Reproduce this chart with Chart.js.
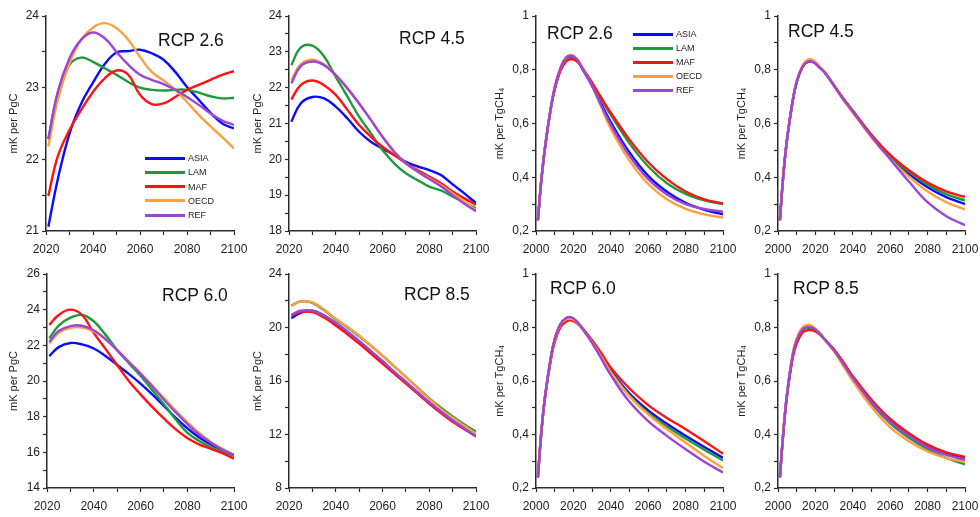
<!DOCTYPE html>
<html>
<head>
<meta charset="utf-8">
<script src="https://cdn.jsdelivr.net/npm/chart.js@4.4.1/dist/chart.umd.min.js"></script>
<style>
  html, body { margin: 0; padding: 0; background: #fff; }
  body { width: 980px; height: 517px; position: relative; overflow: hidden;
         font-family: 'Liberation Sans', Arial, sans-serif; }
  .panel { position: absolute; }
  .rcp { position: absolute; font-size: 17.5px; line-height: 17.5px; color: #111; white-space: nowrap; }
  .legend { position: absolute; font-size: 9px; color: #222; }
  .legend .row { display: flex; align-items: center; }
  .legend .swatch { width: 40px; height: 3px; margin-right: 3px; }
</style>
</head>
<body>
<script>
// ===== DATA =====
const regions = ['ASIA', 'LAM', 'MAF', 'OECD', 'REF'];
const regionColors = ['#0b0bff', '#1e9a3c', '#ff1212', '#ffa040', '#9a46d6'];

const yearsCO2 = [2021, 2025, 2030, 2035, 2040, 2045, 2050, 2055, 2060, 2065, 2070, 2075, 2080, 2085, 2090, 2095, 2100];
const yearsCH4 = [2001, 2003, 2005, 2008, 2010, 2013, 2016, 2019, 2022, 2025, 2030, 2035, 2040, 2050, 2060, 2070, 2080, 2090, 2100];

// mK per PgC, rows in region order (ASIA, LAM, MAF, OECD, REF)
const co2Rcp26 = [
  [21.06, 21.72, 22.36, 22.78, 23.07, 23.33, 23.49, 23.51, 23.53, 23.48, 23.39, 23.22, 23.01, 22.83, 22.65, 22.50, 22.43],
  [22.29, 22.92, 23.32, 23.42, 23.36, 23.27, 23.18, 23.08, 23.00, 22.97, 22.96, 22.97, 22.97, 22.93, 22.88, 22.85, 22.86],
  [21.49, 22.04, 22.41, 22.69, 22.94, 23.13, 23.24, 23.18, 22.90, 22.77, 22.78, 22.87, 22.97, 23.04, 23.11, 23.18, 23.23],
  [22.18, 22.83, 23.34, 23.67, 23.84, 23.90, 23.83, 23.67, 23.43, 23.22, 23.10, 22.97, 22.80, 22.62, 22.46, 22.31, 22.15],
  [22.28, 22.94, 23.41, 23.67, 23.77, 23.69, 23.50, 23.32, 23.18, 23.11, 23.05, 22.97, 22.87, 22.76, 22.64, 22.54, 22.48]
];
const co2Rcp45 = [
  [21.05, 21.56, 21.74, 21.70, 21.47, 21.14, 20.77, 20.49, 20.30, 20.12, 19.93, 19.80, 19.70, 19.56, 19.30, 19.05, 18.78],
  [22.63, 23.12, 23.17, 22.87, 22.30, 21.75, 21.19, 20.73, 20.26, 19.89, 19.61, 19.42, 19.24, 19.13, 18.96, 18.80, 18.63],
  [21.67, 22.07, 22.20, 22.07, 21.80, 21.38, 20.96, 20.63, 20.35, 20.12, 19.89, 19.70, 19.52, 19.33, 19.10, 18.91, 18.73],
  [22.21, 22.65, 22.78, 22.65, 22.35, 21.98, 21.56, 21.10, 20.63, 20.21, 19.89, 19.66, 19.47, 19.28, 19.05, 18.82, 18.59],
  [22.12, 22.60, 22.73, 22.63, 22.35, 21.98, 21.56, 21.10, 20.63, 20.21, 19.89, 19.66, 19.45, 19.25, 19.00, 18.76, 18.55]
];
const co2Rcp60 = [
  [21.40, 21.90, 22.13, 22.05, 21.82, 21.40, 20.90, 20.40, 19.85, 19.25, 18.60, 17.95, 17.35, 16.85, 16.45, 16.10, 15.82],
  [22.40, 23.10, 23.55, 23.70, 23.35, 22.60, 21.75, 21.00, 20.30, 19.50, 18.70, 17.85, 17.10, 16.65, 16.30, 16.05, 15.80],
  [23.15, 23.70, 24.00, 23.70, 22.70, 21.80, 20.90, 20.00, 19.25, 18.55, 17.90, 17.30, 16.80, 16.45, 16.20, 15.95, 15.65],
  [22.10, 22.70, 22.98, 23.00, 22.78, 22.35, 21.75, 21.10, 20.45, 19.75, 19.05, 18.35, 17.70, 17.10, 16.60, 16.20, 15.87],
  [22.20, 22.80, 23.08, 23.10, 22.85, 22.35, 21.72, 21.05, 20.40, 19.70, 18.95, 18.25, 17.60, 17.00, 16.55, 16.15, 15.85]
];
const co2Rcp85 = [
  [20.70, 21.10, 21.25, 20.90, 20.30, 19.65, 18.95, 18.20, 17.45, 16.65, 15.90, 15.15, 14.40, 13.70, 13.05, 12.45, 11.90],
  [21.65, 21.95, 21.85, 21.30, 20.60, 20.00, 19.35, 18.65, 17.90, 17.10, 16.30, 15.50, 14.70, 14.00, 13.35, 12.75, 12.20],
  [20.90, 21.15, 21.15, 20.75, 20.15, 19.50, 18.80, 18.05, 17.30, 16.55, 15.80, 15.05, 14.30, 13.60, 12.95, 12.40, 11.85],
  [21.60, 21.95, 21.87, 21.35, 20.65, 20.05, 19.40, 18.65, 17.90, 17.10, 16.30, 15.45, 14.65, 13.90, 13.25, 12.65, 12.05],
  [20.95, 21.25, 21.25, 20.90, 20.35, 19.70, 19.00, 18.25, 17.50, 16.70, 15.95, 15.15, 14.40, 13.70, 13.05, 12.45, 11.85]
];

// mK per TgCH4, rows in region order
const ch4Rcp26 = [
  [0.24, 0.40, 0.52, 0.66, 0.730, 0.800, 0.840, 0.848, 0.835, 0.800, 0.740, 0.672, 0.605, 0.492, 0.405, 0.346, 0.305, 0.279, 0.262],
  [0.24, 0.40, 0.52, 0.66, 0.730, 0.800, 0.840, 0.850, 0.835, 0.805, 0.748, 0.690, 0.632, 0.526, 0.440, 0.378, 0.338, 0.314, 0.300],
  [0.24, 0.40, 0.52, 0.66, 0.725, 0.795, 0.830, 0.840, 0.830, 0.805, 0.752, 0.695, 0.640, 0.540, 0.456, 0.393, 0.347, 0.318, 0.302],
  [0.24, 0.40, 0.52, 0.66, 0.735, 0.805, 0.845, 0.855, 0.840, 0.805, 0.740, 0.660, 0.580, 0.462, 0.375, 0.318, 0.282, 0.262, 0.250],
  [0.24, 0.40, 0.52, 0.66, 0.735, 0.805, 0.845, 0.852, 0.838, 0.803, 0.740, 0.665, 0.595, 0.480, 0.393, 0.336, 0.300, 0.282, 0.272]
];
const ch4Rcp45 = [
  [0.24, 0.42, 0.55, 0.69, 0.755, 0.810, 0.830, 0.828, 0.810, 0.790, 0.740, 0.690, 0.645, 0.553, 0.475, 0.413, 0.363, 0.326, 0.300],
  [0.24, 0.42, 0.55, 0.69, 0.755, 0.810, 0.830, 0.828, 0.810, 0.790, 0.740, 0.690, 0.645, 0.555, 0.479, 0.420, 0.372, 0.337, 0.314],
  [0.24, 0.42, 0.55, 0.69, 0.755, 0.810, 0.830, 0.828, 0.810, 0.790, 0.742, 0.692, 0.648, 0.558, 0.483, 0.426, 0.380, 0.347, 0.327],
  [0.24, 0.42, 0.55, 0.69, 0.760, 0.815, 0.838, 0.835, 0.815, 0.790, 0.738, 0.686, 0.640, 0.548, 0.468, 0.402, 0.347, 0.307, 0.280],
  [0.24, 0.42, 0.55, 0.69, 0.755, 0.810, 0.830, 0.828, 0.810, 0.790, 0.740, 0.690, 0.645, 0.552, 0.467, 0.384, 0.307, 0.255, 0.222]
];
const ch4Rcp60 = [
  [0.24, 0.42, 0.55, 0.69, 0.755, 0.810, 0.832, 0.835, 0.820, 0.795, 0.748, 0.695, 0.640, 0.553, 0.490, 0.440, 0.395, 0.353, 0.313],
  [0.24, 0.42, 0.55, 0.69, 0.755, 0.810, 0.833, 0.836, 0.820, 0.795, 0.747, 0.692, 0.635, 0.546, 0.480, 0.430, 0.385, 0.343, 0.303],
  [0.24, 0.42, 0.55, 0.68, 0.745, 0.800, 0.822, 0.826, 0.815, 0.795, 0.752, 0.703, 0.650, 0.572, 0.510, 0.462, 0.420, 0.375, 0.328],
  [0.24, 0.42, 0.55, 0.69, 0.755, 0.810, 0.830, 0.832, 0.818, 0.793, 0.745, 0.690, 0.633, 0.543, 0.475, 0.420, 0.370, 0.320, 0.274],
  [0.24, 0.42, 0.55, 0.69, 0.757, 0.812, 0.835, 0.838, 0.820, 0.793, 0.742, 0.683, 0.622, 0.522, 0.450, 0.395, 0.345, 0.298, 0.258]
];
const ch4Rcp85 = [
  [0.24, 0.42, 0.560, 0.70, 0.750, 0.790, 0.800, 0.795, 0.780, 0.755, 0.715, 0.665, 0.613, 0.524, 0.452, 0.400, 0.357, 0.328, 0.310],
  [0.24, 0.42, 0.560, 0.70, 0.750, 0.790, 0.800, 0.795, 0.780, 0.755, 0.714, 0.663, 0.610, 0.515, 0.442, 0.388, 0.345, 0.313, 0.288],
  [0.24, 0.42, 0.555, 0.69, 0.740, 0.780, 0.790, 0.788, 0.776, 0.755, 0.718, 0.670, 0.618, 0.530, 0.458, 0.405, 0.362, 0.333, 0.316],
  [0.24, 0.425, 0.565, 0.71, 0.760, 0.800, 0.810, 0.802, 0.782, 0.755, 0.710, 0.655, 0.600, 0.503, 0.427, 0.375, 0.337, 0.312, 0.298],
  [0.24, 0.42, 0.560, 0.70, 0.752, 0.792, 0.802, 0.797, 0.780, 0.755, 0.714, 0.664, 0.611, 0.520, 0.447, 0.395, 0.352, 0.324, 0.306]
];

const unitCO2 = 'mK per PgC';
const unitCH4 = 'mK per TgCH\u2084';

// ===== LAYOUT (page pixels) =====
// area = [left, top, right, bottom] of the plot box; yw = y axis band width
const panels = [
  { label: 'RCP 2.6', series: co2Rcp26, years: yearsCO2, unit: unitCO2, x: [2020, 2100], y: [21, 24], yStep: 0.5, yMajor: 1,
    area: [46, 16, 234, 231], yw: 46, titlePad: 7, rcp: [158, 32], legend: [145, 151, 14.25] },
  { label: 'RCP 4.5', series: co2Rcp45, years: yearsCO2, unit: unitCO2, x: [2020, 2100], y: [18, 24], yStep: 0.5, yMajor: 1,
    area: [289, 16, 476, 231], yw: 44, titlePad: 6, rcp: [399, 30] },
  { label: 'RCP 2.6', series: ch4Rcp26, years: yearsCH4, unit: unitCH4, x: [2000, 2100], y: [0.2, 1], yStep: 0.1, yMajor: 0.2,
    area: [536, 16, 723, 231], yw: 46, titlePad: 3, rcp: [547, 25], legend: [633, 27.5, 13.9] },
  { label: 'RCP 4.5', series: ch4Rcp45, years: yearsCH4, unit: unitCH4, x: [2000, 2100], y: [0.2, 1], yStep: 0.1, yMajor: 0.2,
    area: [778, 16, 965, 231], yw: 43, titlePad: 0, rcp: [788, 23] },
  { label: 'RCP 6.0', series: co2Rcp60, years: yearsCO2, unit: unitCO2, x: [2020, 2100], y: [14, 26], yStep: 1, yMajor: 2,
    area: [47, 274, 234, 488], yw: 47, titlePad: 7, rcp: [162, 287] },
  { label: 'RCP 8.5', series: co2Rcp85, years: yearsCO2, unit: unitCO2, x: [2020, 2100], y: [8, 24], yStep: 2, yMajor: 4,
    area: [289, 274, 476, 488], yw: 44, titlePad: 6, rcp: [404, 286] },
  { label: 'RCP 6.0', series: ch4Rcp60, years: yearsCH4, unit: unitCH4, x: [2000, 2100], y: [0.2, 1], yStep: 0.1, yMajor: 0.2,
    area: [536, 274, 723, 488], yw: 46, titlePad: 3, rcp: [550, 280] },
  { label: 'RCP 8.5', series: ch4Rcp85, years: yearsCH4, unit: unitCH4, x: [2000, 2100], y: [0.2, 1], yStep: 0.1, yMajor: 0.2,
    area: [778, 274, 965, 488], yw: 43, titlePad: 0, rcp: [793, 280] }
];

const axisColor = '#2a2a2a';
const fontFamily = "'Liberation Sans', Arial, sans-serif";
const PAD_TOP = 16, PAD_RIGHT = 22, X_BAND = 30;

function isMajor(v, step) {
  const r = v / step;
  return Math.abs(r - Math.round(r)) < 1e-6;
}

function fmtY(v, p) {
  if (!isMajor(v, p.yMajor)) return '';
  const r = Math.round(v * 1e6) / 1e6;
  if (Number.isInteger(r)) return String(r);
  return r.toFixed(1).replace('.', ',');
}

function buildPanel(p) {
  const [L, T, R, B] = p.area;
  const wrap = document.createElement('div');
  wrap.className = 'panel';
  const w = (R - L) + p.yw + PAD_RIGHT;
  const h = (B - T) + PAD_TOP + X_BAND;
  wrap.style.left = (L - p.yw) + 'px';
  wrap.style.top = (T - PAD_TOP) + 'px';
  wrap.style.width = w + 'px';
  wrap.style.height = h + 'px';
  const canvas = document.createElement('canvas');
  canvas.width = w;
  canvas.height = h;
  wrap.appendChild(canvas);
  document.body.appendChild(wrap);

  new Chart(canvas, {
    type: 'line',
    data: {
      datasets: regions.map((name, i) => ({
        label: name,
        data: p.years.map((yr, k) => ({ x: yr, y: p.series[i][k] })),
        borderColor: regionColors[i],
        borderWidth: 2.4,
        pointRadius: 0,
        fill: false,
        tension: 0.4,
        order: regions.length - i
      }))
    },
    options: {
      responsive: false,
      animation: false,
      events: [],
      layout: { padding: { left: 0, top: PAD_TOP, right: PAD_RIGHT, bottom: 0 } },
      plugins: { legend: { display: false }, tooltip: { enabled: false } },
      scales: {
        x: {
          type: 'linear',
          min: p.x[0], max: p.x[1],
          afterFit: s => { s.height = X_BAND; },
          ticks: {
            stepSize: 10, autoSkip: false, maxRotation: 0, padding: 7,
            color: '#222', font: { family: fontFamily, size: 12 },
            callback: v => (v % 20 === 0 ? String(v) : '')
          },
          grid: { drawOnChartArea: false, drawTicks: true, tickLength: 4, tickColor: axisColor, tickWidth: 1.2 },
          border: { display: true, color: axisColor, width: 1.5 }
        },
        y: {
          type: 'linear',
          min: p.y[0], max: p.y[1],
          afterFit: s => { s.width = p.yw; },
          ticks: {
            stepSize: p.yStep, autoSkip: false, padding: 3,
            color: '#222', font: { family: fontFamily, size: 12 },
            callback: v => fmtY(v, p)
          },
          grid: { drawOnChartArea: false, drawTicks: true, tickLength: 4, tickColor: axisColor, tickWidth: 1.2 },
          border: { display: true, color: axisColor, width: 1.5 },
          title: {
            display: true, text: p.unit, color: '#222',
            font: { family: fontFamily, size: 11 },
            padding: { top: p.titlePad, bottom: 0 }
          }
        }
      }
    }
  });

  const title = document.createElement('div');
  title.className = 'rcp';
  title.textContent = p.label;
  title.style.left = p.rcp[0] + 'px';
  title.style.top = p.rcp[1] + 'px';
  document.body.appendChild(title);

  if (p.legend) {
    const lg = document.createElement('div');
    lg.className = 'legend';
    lg.style.left = p.legend[0] + 'px';
    lg.style.top = p.legend[1] + 'px';
    regions.forEach((name, i) => {
      const row = document.createElement('div');
      row.className = 'row';
      row.style.height = p.legend[2] + 'px';
      const sw = document.createElement('span');
      sw.className = 'swatch';
      sw.style.background = regionColors[i];
      const tx = document.createElement('span');
      tx.textContent = name;
      row.appendChild(sw);
      row.appendChild(tx);
      lg.appendChild(row);
    });
    document.body.appendChild(lg);
  }
}

panels.forEach(buildPanel);
</script>
</body>
</html>
